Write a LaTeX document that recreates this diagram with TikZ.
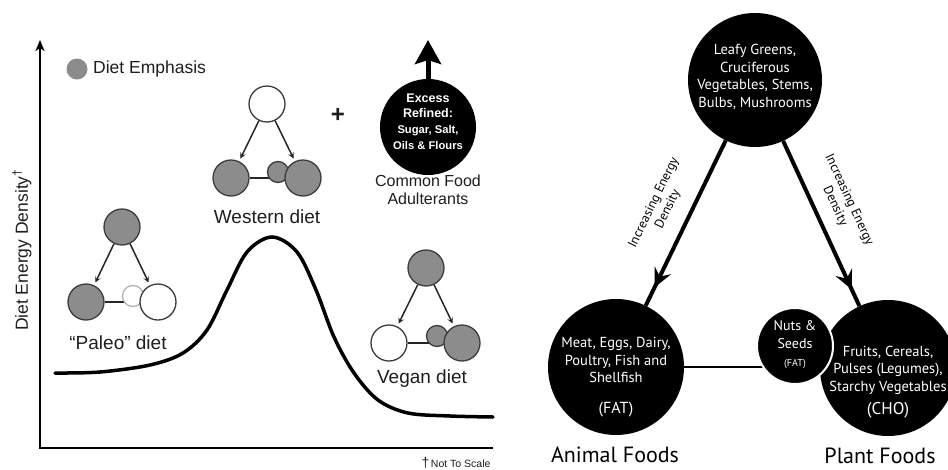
\documentclass[tikz,border=0pt]{standalone}
\usepackage{fontspec}
\setmainfont{Liberation Sans}
\newfontfamily\gill{PT Sans}
\usetikzlibrary{arrows.meta,decorations.markings,backgrounds,calc}
\definecolor{dgray}{RGB}{140,140,140}
\definecolor{edgec}{RGB}{60,60,60}
\definecolor{txt}{RGB}{30,30,30}
\begin{document}
\begin{tikzpicture}[x=1pt,y=-1pt,
  gc/.style={circle, draw=edgec, line width=1.3pt, fill=dgray, minimum size=36pt, inner sep=0pt},
  wc/.style={gc, fill=white},
  sg/.style={gc, minimum size=21pt},
  sw/.style={gc, fill=white, draw=gray!60, minimum size=21pt},
  sarr/.style={line width=1.5pt, draw=black!85, -{Stealth[length=6pt,width=6pt,inset=2.5pt]}, shorten >=3pt},
  hline/.style={line width=2pt, draw=black!85},
  lbl/.style={font=\fontsize{19}{22}\selectfont, text=txt},
  lbm/.style={font=\fontsize{16}{18}\selectfont, text=txt},
  exs/.style={text=white, font=\bfseries\fontsize{12.5}{14}\selectfont, inner sep=0pt},
  exm/.style={text=white, font=\bfseries\fontsize{11.2}{13}\selectfont, inner sep=0pt},
  bigc/.style={circle, fill=black, inner sep=0pt},
  gtext/.style={text=white, align=center, font=\gill\fontsize{14.5}{17.5}\selectfont, inner sep=0pt},
  foods/.style={font=\gill\fontsize{22}{24}\selectfont, text=black},
  arrlbl/.style={align=center, font=\gill\fontsize{13}{15.5}\selectfont, inner sep=0pt},
  barrow/.style={line width=4pt, postaction={decorate},
    decoration={markings, mark=at position #1 with {\arrow{Stealth[length=19pt,width=18pt,inset=7pt]}}}}
]
\useasboundingbox (0,0) rectangle (948,469);
\begin{scope}
\clip (0,0) rectangle (948,469);

% ---------- left panel ----------
\coordinate (ytop) at (40,40);
\coordinate (O) at (40,448);
\coordinate (xend) at (493,448);
\draw[line width=2pt, line join=miter, {Stealth[length=11pt,width=9pt,inset=3pt]}-] (ytop) -- (O) -- (xend);
\node[rotate=90, font=\fontsize{17.5}{20}\selectfont, text=txt] (ylab) at (22,250) {Diet Energy Density\textsuperscript{†}};
\node[text=txt, inner sep=0pt] (nts) at (456,463) {{\fontsize{14}{14}\selectfont †}\,{\fontsize{10.5}{12}\selectfont Not To Scale}};

\node[circle, fill=dgray, minimum size=21pt, inner sep=0pt] (leg) at (77,69) {};
\node[anchor=west, font=\fontsize{17.5}{20}\selectfont, text=txt, inner sep=0pt] (legt) at (93,69) {Diet Emphasis};

\draw[line width=3.5pt, line cap=round] plot[smooth, tension=0.55] coordinates {(55,373) (100,372) (150,365) (183,353) (207,330) (227,290) (247,252) (272,237) (297,252) (316,290) (334,337) (354,373) (378,400) (408,413) (450,416) (493,417)};

% Paleo
\node[gc] (pT) at (122,227) {};
\node[gc] (pL) at (86,302) {};
\node[sw] (pS) at (133,296) {};
\node[wc] (pR) at (158,302) {};
\begin{scope}[on background layer]\draw[hline] (pL) -- (pR);\end{scope}
\draw[sarr] (pT) -- (pL);
\draw[sarr] (pT) -- (pR);
\node[lbl] (pLab) at (118,343) {“Paleo” diet};

% Western
\node[wc] (wT) at (267,104) {};
\node[gc] (wL) at (231,178) {};
\node[sg] (wS) at (278,172) {};
\node[gc] (wR) at (303,178) {};
\begin{scope}[on background layer]\draw[hline] (wL) -- (wR);\end{scope}
\draw[sarr] (wT) -- (wL);
\draw[sarr] (wT) -- (wR);
\node[lbl] (wLab) at (267,217) {Western diet};

% Vegan
\node[gc] (vT) at (426,268) {};
\node[wc] (vL) at (389,343) {};
\node[sg] (vS) at (437,336) {};
\node[gc] (vR) at (462,343) {};
\begin{scope}[on background layer]\draw[hline] (vL) -- (vR);\end{scope}
\draw[sarr] (vT) -- (vL);
\draw[sarr] (vT) -- (vR);
\node[lbl] (vLab) at (422,379) {Vegan diet};

% plus and adulterants
\node[font=\bfseries\fontsize{24}{24}\selectfont, text=txt] (plus) at (338,115) {+};
\node[bigc, minimum size=96pt] (E) at (428,127) {};
\coordinate (etip) at (428,40);
\draw[line width=5pt, -{Stealth[length=24pt,width=26pt,inset=4pt]}] (E.north) -- (etip);
\node[exs] (e1) at (428,98) {Excess};
\node[exs] (e2) at (428,113) {Refined:};
\node[exm] (e3) at (428,131) {Sugar, Salt,};
\node[exm] (e4) at (428,145) {Oils \& Flours};
\node[lbm] (cf1) at (428,181) {Common Food};
\node[lbm] (cf2) at (428,199) {Adulterants};

% ---------- right panel ----------
\node[bigc, minimum size=134pt] (T2) at (755,80) {};
\node[bigc, minimum size=136pt] (A) at (616,367) {};
\node[bigc, minimum size=136pt] (P) at (888,368) {};
\node[bigc, minimum size=76pt, draw=white, line width=2pt] (N) at (795,346) {};
\begin{scope}[on background layer]
\draw[line width=2pt] (A.center) -- (A.center -| N.center);
\end{scope}
\draw[barrow=0.89] (T2) -- (A);
\draw[barrow=0.9] (T2) -- (P);

\node[gtext] (T2t) at (755,77) {Leafy Greens,\\Cruciferous\\Vegetables, Stems,\\Bulbs, Mushrooms};
\node[gtext] (At) at (616,360) {Meat, Eggs, Dairy,\\Poultry, Fish and\\Shellfish};
\node[gtext, font=\gill\fontsize{16}{18}\selectfont] (Af) at (616,410) {(FAT)};
\node[gtext] (Pt) at (888,370) {Fruits, Cereals,\\Pulses (Legumes),\\Starchy Vegetables};
\node[gtext, font=\gill\fontsize{17}{19}\selectfont] (Pf) at (888,410) {(CHO)};
\node[gtext, font=\gill\fontsize{14}{18}\selectfont] (Nt) at (795,335) {Nuts \&\\Seeds};
\node[gtext, font=\gill\fontsize{10}{12}\selectfont] (Nf) at (795,364) {(FAT)};

\node[arrlbl, rotate=64] (la1) at (661,206) {Increasing Energy\\Density};
\node[arrlbl, rotate=-65] (la2) at (842,203) {Increasing Energy\\Density};

\node[foods] (af) at (615,455) {Animal Foods};
\node[foods] (pf) at (880,456) {Plant Foods};
\end{scope}
\end{tikzpicture}
\end{document}
